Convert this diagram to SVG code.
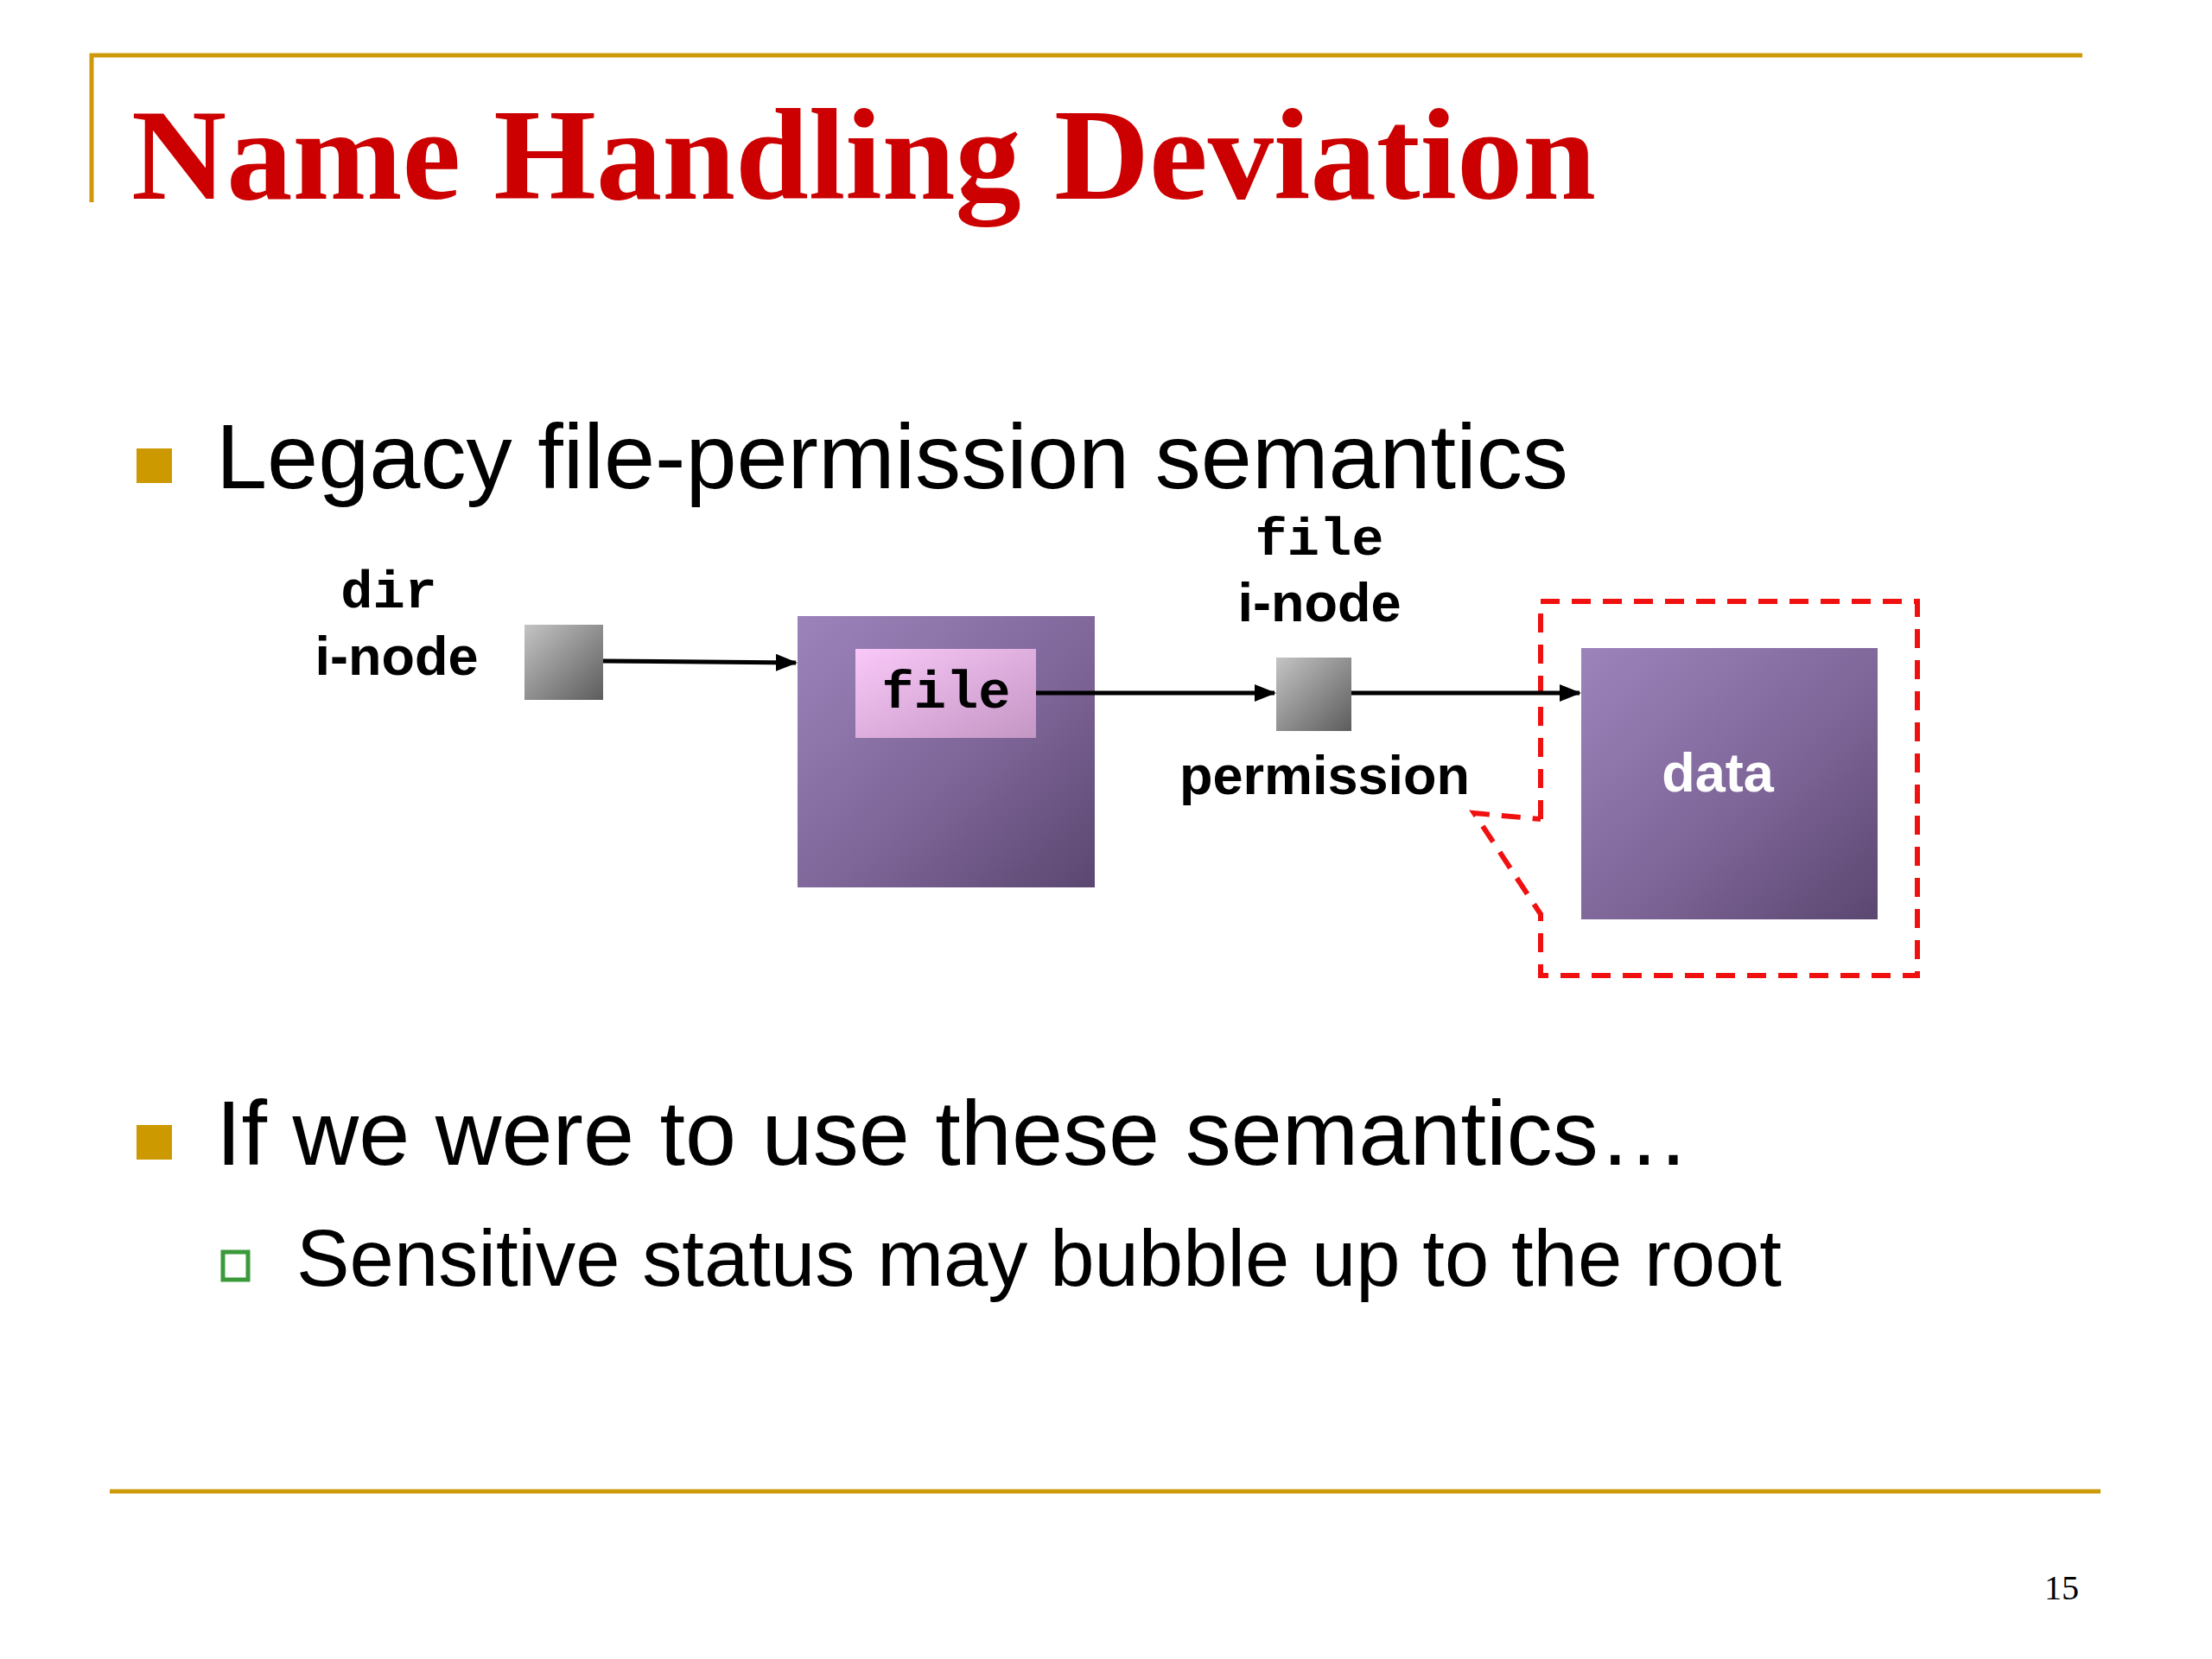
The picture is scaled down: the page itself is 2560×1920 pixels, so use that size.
<svg xmlns="http://www.w3.org/2000/svg" width="2560" height="1920" viewBox="0 0 2560 1920">
<defs>
<style>
.gold{stroke:#cc9a0a;stroke-width:5;fill:none}
.bullet{fill:#cc9900}
.body{font-family:"Liberation Sans",Arial,sans-serif;fill:#000}
.lbl{font-family:"Liberation Sans",Arial,sans-serif;font-weight:bold;font-size:63px;fill:#000}
.white{fill:#fff}
.mono{font-family:"Liberation Mono","Courier New",monospace;font-weight:bold;font-size:62px;fill:#000}
.conn{stroke:#000;stroke-width:5;fill:none;marker-end:url(#arr)}
</style>
<linearGradient id="grey" x1="0" y1="0" x2="1" y2="1">
<stop offset="0" stop-color="#c4c4c4"/><stop offset="1" stop-color="#5c5c5c"/>
</linearGradient>
<linearGradient id="purple" x1="0" y1="0" x2="1" y2="1">
<stop offset="0" stop-color="#9c83ba"/><stop offset="0.55" stop-color="#7f6699"/><stop offset="1" stop-color="#5a4770"/>
</linearGradient>
<linearGradient id="pink" x1="0" y1="0" x2="1" y2="1">
<stop offset="0" stop-color="#f9c8f8"/><stop offset="1" stop-color="#c496c4"/>
</linearGradient>
<marker id="arr" markerWidth="5" markerHeight="4" refX="4.6" refY="2" orient="auto" markerUnits="strokeWidth">
<path d="M0,0 L5,2 L0,4 Z" fill="#000"/>
</marker>
</defs>
<rect width="2560" height="1920" fill="#fff"/>

<!-- frame lines -->
<path class="gold" d="M106,234 V64 H2410"/>
<line class="gold" x1="127" y1="1726" x2="2431" y2="1726"/>

<!-- title -->
<text x="152" y="230" font-family="'Liberation Serif','Times New Roman',serif" font-weight="bold" font-size="150" fill="#cc0000" textLength="1695" lengthAdjust="spacingAndGlyphs">Name Handling Deviation</text>

<!-- bullets -->
<rect class="bullet" x="158" y="519" width="41" height="40"/>
<text class="body" x="250" y="565" font-size="106" textLength="1565" lengthAdjust="spacingAndGlyphs">Legacy file-permission semantics</text>
<rect class="bullet" x="158" y="1302" width="41" height="40"/>
<text class="body" x="250" y="1348" font-size="106" textLength="1706" lengthAdjust="spacingAndGlyphs">If we were to use these semantics…</text>
<rect x="258" y="1449" width="29" height="32" fill="#fff" stroke="#3a9a3a" stroke-width="5"/>
<text class="body" x="343" y="1488" font-size="92" textLength="1719" lengthAdjust="spacingAndGlyphs">Sensitive status may bubble up to the root</text>

<!-- page number -->
<text x="2386" y="1851" font-family="'Liberation Serif','Times New Roman',serif" font-size="40" fill="#000" text-anchor="middle">15</text>

<!-- nodes -->
<g id="dir-inode">
<rect x="607" y="723" width="91" height="87" fill="url(#grey)"/>
<text class="mono" x="450" y="703" text-anchor="middle">dir</text>
<text class="lbl" x="459" y="781" text-anchor="middle">i-node</text>
</g>
<g id="dir-block">
<rect x="923" y="713" width="344" height="314" fill="url(#purple)"/>
<rect x="990" y="751" width="209" height="103" fill="url(#pink)"/>
<text class="mono" x="1095" y="819" text-anchor="middle">file</text>
</g>
<g id="file-inode">
<rect x="1477" y="761" width="87" height="85" fill="url(#grey)"/>
<text class="mono" x="1527" y="642" text-anchor="middle">file</text>
<text class="lbl" x="1527" y="719" text-anchor="middle">i-node</text>
<text class="lbl" x="1533" y="919" text-anchor="middle">permission</text>
</g>
<g id="data">
<rect x="1830" y="750" width="343" height="314" fill="url(#purple)"/>
<text class="lbl white" x="1988" y="916" text-anchor="middle">data</text>
</g>
<g id="callout">
<path d="M1783,948 L1783,696 L2219,696 L2219,1129 L1783,1129 L1783,1058 L1706,941 L1783,948" fill="none" stroke="#f01010" stroke-width="6" stroke-dasharray="22,14"/>
</g>

<!-- connectors -->
<g id="connectors">
<line class="conn" x1="698" y1="765" x2="921" y2="767"/>
<line class="conn" x1="1199" y1="802" x2="1475" y2="802"/>
<line class="conn" x1="1564" y1="802" x2="1828" y2="802"/>
</g>
</svg>
